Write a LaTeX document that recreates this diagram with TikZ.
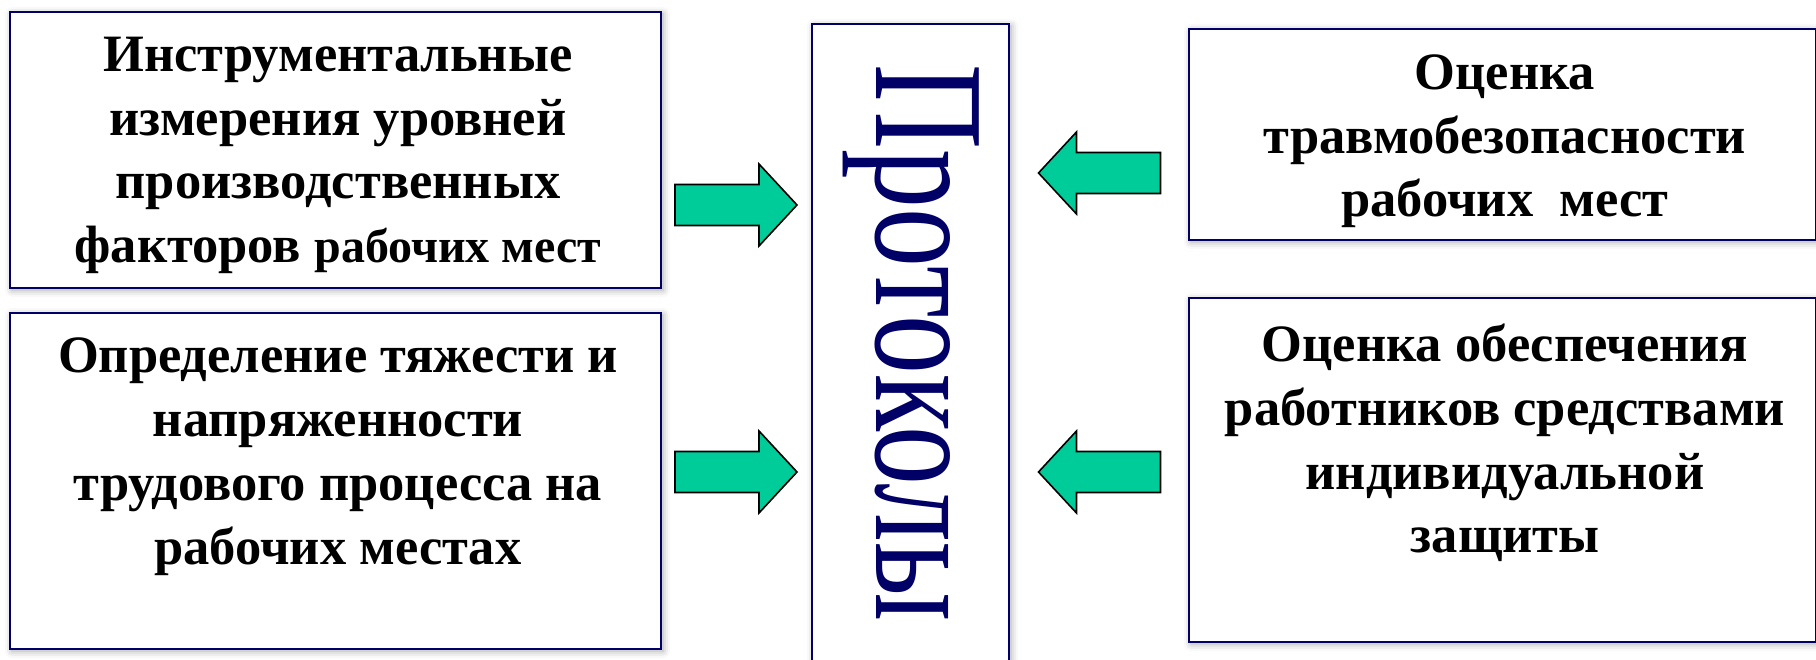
\documentclass[tikz,border=0pt]{standalone}
\usepackage{fontspec}
\setmainfont{Liberation Serif}
\newfontfamily\protfont[FakeStretch=0.75]{Liberation Serif}
\usetikzlibrary{shadows.blur}
\definecolor{boxnavy}{HTML}{000066}
\definecolor{arrowgreen}{HTML}{00CC99}
\begin{document}
\begin{tikzpicture}[x=1pt,y=-1pt,
  box/.style={draw=boxnavy, line width=2.2pt, fill=white, inner sep=0pt,
    blur shadow={shadow xshift=2pt, shadow yshift=-2pt, shadow blur radius=7pt, shadow opacity=35}},
  lbl/.style={font=\fontsize{52.5}{63.7}\selectfont\bfseries, align=center, inner sep=0pt, anchor=north},
  blockarrow/.style={draw=black, line width=1.6pt, fill=arrowgreen, line join=miter},
  fatarrow/.pic={\draw[blockarrow] (-61,-20.5) -- (23,-20.5) -- (23,-41) -- (61,0) -- (23,41) -- (23,20.5) -- (-61,20.5) -- cycle;}]
\useasboundingbox (0,0) rectangle (1816,660);
\node[box, minimum width=651pt, minimum height=276pt] (b1) at (335.5,150) {};
\node[box, minimum width=651pt, minimum height=336pt] (b2) at (335.5,481) {};
\node[box, minimum width=197pt, minimum height=656pt] (b3) at (910.5,352) {};
\node[box, minimum width=627pt, minimum height=211pt] (b4) at (1502.5,134.5) {};
\node[box, minimum width=627pt, minimum height=344pt] (b5) at (1502.5,470) {};

\pic at (736,205) {fatarrow};
\pic at (736,472) {fatarrow};
\pic[xscale=-1] at (1099.5,173) {fatarrow};
\pic[xscale=-1] at (1099.5,472) {fatarrow};

\node[lbl] (t1) at (338,37) {Инструментальные\\измерения уровней\\производственных\\факторов {\fontsize{48}{63.7}\selectfont рабочих мест}};
\node[lbl] (t2) at (338,338) {Определение тяжести и\\напряженности\\трудового процесса на\\рабочих местах};
\node[lbl] (t4) at (1505,54.5) {Оценка\\травмобезопасности\\рабочих\ \ мест};
\node[lbl] (t5) at (1505,324) {Оценка обеспечения\\работников средствами\\индивидуальной\\защиты};
\node[font=\protfont\fontsize{157}{157}\selectfont, text=boxnavy, rotate=-90, anchor=base, inner sep=0pt] (t3) at (876,343) {Протоколы};
\end{tikzpicture}
\end{document}
